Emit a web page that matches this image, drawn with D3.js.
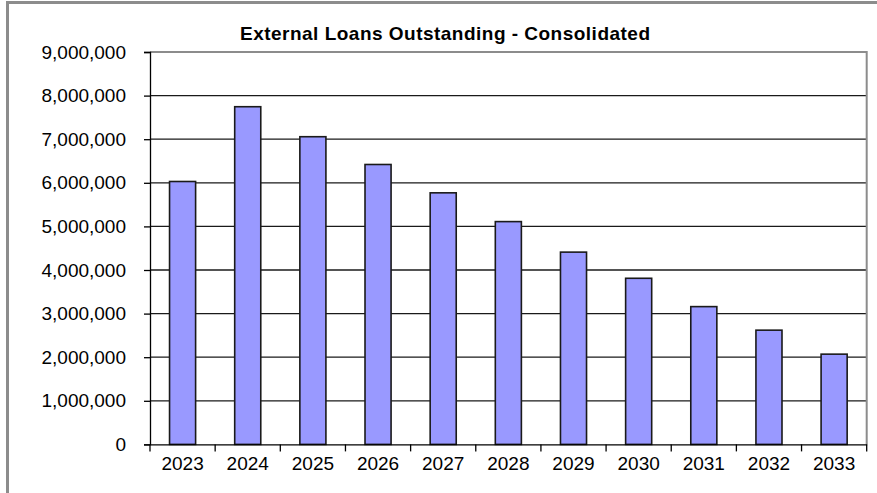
<!DOCTYPE html>
<html>
<head>
<meta charset="utf-8">
<script src="https://cdn.jsdelivr.net/npm/d3@7"></script>
<style>
    body { margin: 0; background: #fff; }
    text { font-family: "Liberation Sans", Arial, sans-serif; fill: #000; }
</style>
</head>
<body>
<div id="chart"></div>
<script>
// data
const years = ['2023', '2024', '2025', '2026', '2027', '2028', '2029', '2030', '2031', '2032', '2033'];
const loans = [6030000, 7745000, 7057000, 6420000, 5770000, 5110000, 4410000, 3810000, 3160000, 2620000, 2070000];
const yTicks = [0, 1000000, 2000000, 3000000, 4000000, 5000000, 6000000, 7000000, 8000000, 9000000];
const chartTitle = 'External Loans Outstanding - Consolidated';

const W = 877, H = 493;
const margin = {top: 52, right: 10.3, bottom: 48.6, left: 150};
const width = W - margin.left - margin.right;
const height = H - margin.top - margin.bottom;

const svg = d3.select('#chart').append('svg')
    .attr('width', W)
    .attr('height', H);

// outer chart frame (only top + left visible)
svg.append('rect')
    .attr('x', 7.5)
    .attr('y', 2.5)
    .attr('width', 900)
    .attr('height', 520)
    .attr('fill', '#fff')
    .attr('stroke', '#8c8c8c')
    .attr('stroke-width', 3);

// title
svg.append('text')
    .attr('x', 445)
    .attr('y', 40)
    .attr('text-anchor', 'middle')
    .attr('font-size', 19)
    .attr('font-weight', 'bold')
    .attr('textLength', 410)
    .attr('lengthAdjust', 'spacing')
    .text(chartTitle);

const g = svg.append('g')
    .attr('transform', `translate(${margin.left},${margin.top})`);

const x = d3.scaleBand()
    .domain(years)
    .range([0, width])
    .padding(0);

const y = d3.scaleLinear()
    .domain([0, 9000000])
    .range([height, 0]);

// gridlines
g.selectAll('.grid')
    .data(yTicks.filter(d => d > 0 && d < 9000000))
    .enter().append('line')
    .attr('class', 'grid')
    .attr('x1', 0)
    .attr('x2', width)
    .attr('y1', d => y(d))
    .attr('y2', d => y(d))
    .attr('stroke', '#1a1a1a')
    .attr('stroke-width', 1.3);

// plot area border (top + right)
g.append('path')
    .attr('d', `M0,${y(9000000)}H${width}V${height}`)
    .attr('fill', 'none')
    .attr('stroke', '#8c8c8c')
    .attr('stroke-width', 2);

// bars
const barW = x.bandwidth() * 0.4;
g.selectAll('.bar')
    .data(loans)
    .enter().append('rect')
    .attr('class', 'bar')
    .attr('x', (d, i) => x(years[i]) + (x.bandwidth() - barW) / 2)
    .attr('y', d => y(d))
    .attr('width', barW)
    .attr('height', d => height - y(d))
    .attr('fill', '#9999ff')
    .attr('stroke', '#1a1a1a')
    .attr('stroke-width', 1.6);

// y axis
const yAxis = g.append('g')
    .call(d3.axisLeft(y).tickValues(yTicks).tickSize(6).tickPadding(18)
        .tickFormat(d3.format(',')));
yAxis.selectAll('text').attr('font-size', 19).attr('fill', '#000');
yAxis.selectAll('line').attr('stroke', '#000').attr('stroke-width', 1.3);
yAxis.select('.domain').attr('stroke', '#000').attr('stroke-width', 1.3);

// x axis
const xAxis = g.append('g')
    .attr('transform', `translate(0,${height})`)
    .call(d3.axisBottom(x).tickSize(0).tickPadding(12));
xAxis.selectAll('text').attr('font-size', 19).attr('fill', '#000');
xAxis.select('.domain').attr('stroke', '#000').attr('stroke-width', 1.3);

// category boundary ticks
g.selectAll('.xtick')
    .data(years.concat(['end']))
    .enter().append('line')
    .attr('class', 'xtick')
    .attr('x1', (d, i) => i * x.step())
    .attr('x2', (d, i) => i * x.step())
    .attr('y1', height)
    .attr('y2', height + 7)
    .attr('stroke', '#000')
    .attr('stroke-width', 1.3);
</script>
</body>
</html>
